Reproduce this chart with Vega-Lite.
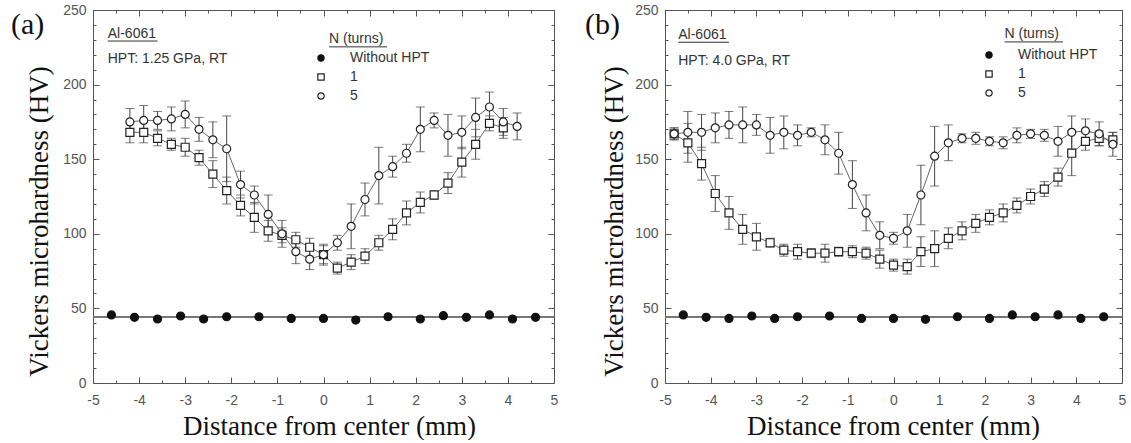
{
  "$schema": "https://vega.github.io/schema/vega-lite/v6.json",
  "background": "white",
  "padding": {"left": 10, "top": 2, "right": 5, "bottom": 0},
  "spacing": 25,
  "config": {
    "view": {"stroke": "#555", "strokeWidth": 1},
    "font": "Liberation Sans",
    "axis": {"grid": false, "domain": false, "labelFont": "Liberation Sans", "labelFontSize": 14, "labelColor": "#555", "tickColor": "#555", "tickWidth": 1, "titleFont": "Liberation Serif", "titleFontSize": 27, "titleFontWeight": "normal", "titleColor": "#111", "labelFlush": false, "labelOverlap": false},
    "legend": {"orient": "none", "title": null, "labelFont": "Liberation Sans", "labelFontSize": 14, "labelColor": "#333", "symbolStrokeWidth": 1.2, "symbolSize": 40, "rowPadding": 5, "labelOffset": 22, "padding": 0}
  },
  "resolve": {"scale": {"shape": "independent", "fill": "independent", "stroke": "independent"}, "legend": {"shape": "independent", "fill": "independent", "stroke": "independent"}},
  "datasets": {
    "a": [
      {"s":"Without HPT","x":-4.6,"hv":45.6},{"s":"Without HPT","x":-4.1,"hv":44},{"s":"Without HPT","x":-3.6,"hv":42.9},{"s":"Without HPT","x":-3.1,"hv":44.9},{"s":"Without HPT","x":-2.6,"hv":42.9},{"s":"Without HPT","x":-2.1,"hv":44.4},{"s":"Without HPT","x":-1.4,"hv":44.4},{"s":"Without HPT","x":-0.7,"hv":43.3},{"s":"Without HPT","x":0,"hv":43.3},{"s":"Without HPT","x":0.7,"hv":42.2},{"s":"Without HPT","x":1.4,"hv":44.4},{"s":"Without HPT","x":2.1,"hv":42.9},{"s":"Without HPT","x":2.6,"hv":45.1},{"s":"Without HPT","x":3.1,"hv":44},{"s":"Without HPT","x":3.6,"hv":45.6},{"s":"Without HPT","x":4.1,"hv":42.9},{"s":"Without HPT","x":4.6,"hv":44},
      {"s":"1","x":-4.2,"hv":168,"e":7},{"s":"1","x":-3.9,"hv":168,"e":7},{"s":"1","x":-3.6,"hv":164,"e":5},{"s":"1","x":-3.3,"hv":160,"e":4},{"s":"1","x":-3.0,"hv":158,"e":6},{"s":"1","x":-2.7,"hv":151,"e":5},{"s":"1","x":-2.4,"hv":140,"e":9},{"s":"1","x":-2.1,"hv":129,"e":9},{"s":"1","x":-1.8,"hv":119,"e":7},{"s":"1","x":-1.5,"hv":111,"e":10},{"s":"1","x":-1.2,"hv":102,"e":7},{"s":"1","x":-0.9,"hv":99,"e":5},{"s":"1","x":-0.6,"hv":96,"e":5},{"s":"1","x":-0.3,"hv":91,"e":6},{"s":"1","x":0,"hv":86,"e":7},{"s":"1","x":0.3,"hv":77,"e":4},{"s":"1","x":0.6,"hv":81,"e":5},{"s":"1","x":0.9,"hv":85,"e":5},{"s":"1","x":1.2,"hv":94,"e":5},{"s":"1","x":1.5,"hv":103,"e":7},{"s":"1","x":1.8,"hv":114,"e":8},{"s":"1","x":2.1,"hv":121,"e":7},{"s":"1","x":2.4,"hv":126,"e":3},{"s":"1","x":2.7,"hv":134,"e":7},{"s":"1","x":3.0,"hv":148,"e":10},{"s":"1","x":3.3,"hv":160,"e":10},{"s":"1","x":3.6,"hv":174,"e":5},{"s":"1","x":3.9,"hv":171,"e":7},
      {"s":"5","x":-4.2,"hv":175,"e":9},{"s":"5","x":-3.9,"hv":176,"e":10},{"s":"5","x":-3.6,"hv":176,"e":6},{"s":"5","x":-3.3,"hv":177,"e":8},{"s":"5","x":-3.0,"hv":180,"e":9},{"s":"5","x":-2.7,"hv":170,"e":8},{"s":"5","x":-2.4,"hv":163,"e":12},{"s":"5","x":-2.1,"hv":157,"e":22},{"s":"5","x":-1.8,"hv":133,"e":9},{"s":"5","x":-1.5,"hv":126,"e":6},{"s":"5","x":-1.2,"hv":113,"e":13},{"s":"5","x":-0.9,"hv":100,"e":9},{"s":"5","x":-0.6,"hv":88,"e":8},{"s":"5","x":-0.3,"hv":83,"e":7},{"s":"5","x":0,"hv":86,"e":6},{"s":"5","x":0.3,"hv":94,"e":5},{"s":"5","x":0.6,"hv":105,"e":15},{"s":"5","x":0.9,"hv":123,"e":11},{"s":"5","x":1.2,"hv":139,"e":19},{"s":"5","x":1.5,"hv":145,"e":7},{"s":"5","x":1.8,"hv":154,"e":6},{"s":"5","x":2.1,"hv":170,"e":15},{"s":"5","x":2.4,"hv":176,"e":5},{"s":"5","x":2.7,"hv":166,"e":14},{"s":"5","x":3.0,"hv":168,"e":11},{"s":"5","x":3.3,"hv":178,"e":13},{"s":"5","x":3.6,"hv":185,"e":10},{"s":"5","x":3.9,"hv":175,"e":9},{"s":"5","x":4.2,"hv":172,"e":9}
    ],
    "b": [
      {"s":"Without HPT","x":-4.6,"hv":45.6},{"s":"Without HPT","x":-4.1,"hv":44},{"s":"Without HPT","x":-3.6,"hv":43.3},{"s":"Without HPT","x":-3.1,"hv":44.9},{"s":"Without HPT","x":-2.6,"hv":43.3},{"s":"Without HPT","x":-2.1,"hv":44.4},{"s":"Without HPT","x":-1.4,"hv":44.9},{"s":"Without HPT","x":-0.7,"hv":43.3},{"s":"Without HPT","x":0,"hv":43.3},{"s":"Without HPT","x":0.7,"hv":42.7},{"s":"Without HPT","x":1.4,"hv":44.4},{"s":"Without HPT","x":2.1,"hv":43.3},{"s":"Without HPT","x":2.6,"hv":45.6},{"s":"Without HPT","x":3.1,"hv":44.4},{"s":"Without HPT","x":3.6,"hv":45.6},{"s":"Without HPT","x":4.1,"hv":43.3},{"s":"Without HPT","x":4.6,"hv":44.4},
      {"s":"1","x":-4.8,"hv":167,"e":4},{"s":"1","x":-4.5,"hv":161,"e":13},{"s":"1","x":-4.2,"hv":147,"e":11},{"s":"1","x":-3.9,"hv":127,"e":12},{"s":"1","x":-3.6,"hv":114,"e":11},{"s":"1","x":-3.3,"hv":103,"e":10},{"s":"1","x":-3.0,"hv":98,"e":9},{"s":"1","x":-2.7,"hv":94,"e":3},{"s":"1","x":-2.4,"hv":89,"e":4},{"s":"1","x":-2.1,"hv":88,"e":5},{"s":"1","x":-1.8,"hv":87,"e":3},{"s":"1","x":-1.5,"hv":87,"e":6},{"s":"1","x":-1.2,"hv":88,"e":3},{"s":"1","x":-0.9,"hv":88,"e":4},{"s":"1","x":-0.6,"hv":87,"e":4},{"s":"1","x":-0.3,"hv":83,"e":6},{"s":"1","x":0,"hv":79,"e":4},{"s":"1","x":0.3,"hv":78,"e":5},{"s":"1","x":0.6,"hv":88,"e":10},{"s":"1","x":0.9,"hv":90,"e":12},{"s":"1","x":1.2,"hv":97,"e":7},{"s":"1","x":1.5,"hv":102,"e":6},{"s":"1","x":1.8,"hv":107,"e":6},{"s":"1","x":2.1,"hv":111,"e":5},{"s":"1","x":2.4,"hv":114,"e":6},{"s":"1","x":2.7,"hv":119,"e":5},{"s":"1","x":3.0,"hv":125,"e":5},{"s":"1","x":3.3,"hv":130,"e":5},{"s":"1","x":3.6,"hv":138,"e":6},{"s":"1","x":3.9,"hv":154,"e":15},{"s":"1","x":4.2,"hv":162,"e":6},{"s":"1","x":4.5,"hv":164,"e":5},{"s":"1","x":4.8,"hv":163,"e":5},
      {"s":"5","x":-4.8,"hv":167,"e":4},{"s":"5","x":-4.5,"hv":168,"e":14},{"s":"5","x":-4.2,"hv":168,"e":12},{"s":"5","x":-3.9,"hv":171,"e":10},{"s":"5","x":-3.6,"hv":173,"e":9},{"s":"5","x":-3.3,"hv":173,"e":12},{"s":"5","x":-3.0,"hv":173,"e":7},{"s":"5","x":-2.7,"hv":166,"e":12},{"s":"5","x":-2.4,"hv":168,"e":11},{"s":"5","x":-2.1,"hv":166,"e":7},{"s":"5","x":-1.8,"hv":168,"e":3},{"s":"5","x":-1.5,"hv":163,"e":10},{"s":"5","x":-1.2,"hv":154,"e":14},{"s":"5","x":-0.9,"hv":133,"e":16},{"s":"5","x":-0.6,"hv":114,"e":12},{"s":"5","x":-0.3,"hv":99,"e":9},{"s":"5","x":0,"hv":97,"e":4},{"s":"5","x":0.3,"hv":102,"e":11},{"s":"5","x":0.6,"hv":126,"e":20},{"s":"5","x":0.9,"hv":152,"e":20},{"s":"5","x":1.2,"hv":161,"e":12},{"s":"5","x":1.5,"hv":164,"e":3},{"s":"5","x":1.8,"hv":164,"e":4},{"s":"5","x":2.1,"hv":162,"e":3},{"s":"5","x":2.4,"hv":161,"e":4},{"s":"5","x":2.7,"hv":166,"e":5},{"s":"5","x":3.0,"hv":167,"e":3},{"s":"5","x":3.3,"hv":166,"e":4},{"s":"5","x":3.6,"hv":162,"e":10},{"s":"5","x":3.9,"hv":168,"e":11},{"s":"5","x":4.2,"hv":169,"e":8},{"s":"5","x":4.5,"hv":167,"e":8},{"s":"5","x":4.8,"hv":160,"e":8}
    ]
  },
  "hconcat": [
    {
      "width": 461, "height": 373,
      "data": {"name": "a"},
      "layer": [
        {
          "transform": [{"filter": "datum.s !== 'Without HPT'"}],
          "mark": {"type": "line", "color": "#666", "strokeWidth": 1},
          "encoding": {
            "x": {"field": "x", "type": "quantitative", "scale": {"domain": [-5, 5], "nice": false, "zero": false},
              "axis": {"orient": "bottom", "values": [-5,-4.5,-4,-3.5,-3,-2.5,-2,-1.5,-1,-0.5,0,0.5,1,1.5,2,2.5,3,3.5,4,4.5,5], "labelExpr": "datum.value % 1 === 0 ? '' + datum.value : ''", "tickSize": {"condition": {"test": "datum.value % 1 !== 0", "value": -3}, "value": -6}, "labelPadding": 16, "title": "Distance from center (mm)", "titleX": 236, "titleY": 51, "titleBaseline": "alphabetic", "titleAlign": "center"}},
            "y": {"field": "hv", "type": "quantitative", "scale": {"domain": [0, 250], "nice": false},
              "axis": {"orient": "left", "values": [0,10,20,30,40,50,60,70,80,90,100,110,120,130,140,150,160,170,180,190,200,210,220,230,240,250], "labelExpr": "datum.value % 50 === 0 ? '' + datum.value : ''", "tickSize": {"condition": {"test": "datum.value % 50 !== 0", "value": -3}, "value": -6}, "labelPadding": 13, "title": "Vickers microhardness (HV)", "titleX": -46, "titleY": 211, "titleBaseline": "alphabetic", "titleAlign": "center"}},
            "detail": {"field": "s"}
          }
        },
        {
          "transform": [{"filter": "datum.s !== 'Without HPT'"}],
          "mark": {"type": "errorbar", "ticks": {"size": 9}, "color": "#444", "thickness": 1},
          "encoding": {
            "x": {"field": "x", "type": "quantitative", "axis": null},
            "y": {"field": "hv", "type": "quantitative", "axis": null},
            "yError": {"field": "e"}
          }
        },
        {
          "mark": {"type": "rule", "color": "#777", "strokeWidth": 1},
          "encoding": {"y": {"datum": 44, "type": "quantitative", "axis": null}}
        },
        {
          "mark": {"type": "point", "filled": true, "size": 64, "strokeWidth": 1.2, "opacity": 1},
          "encoding": {
            "x": {"field": "x", "type": "quantitative", "axis": {"orient": "top", "values": [-5,-4.5,-4,-3.5,-3,-2.5,-2,-1.5,-1,-0.5,0,0.5,1,1.5,2,2.5,3,3.5,4,4.5,5], "labels": false, "title": null, "tickSize": {"condition": {"test": "datum.value % 1 !== 0", "value": -3}, "value": -6}}},
            "y": {"field": "hv", "type": "quantitative", "axis": {"orient": "right", "values": [0,10,20,30,40,50,60,70,80,90,100,110,120,130,140,150,160,170,180,190,200,210,220,230,240,250], "labels": false, "title": null, "tickSize": {"condition": {"test": "datum.value % 50 !== 0", "value": -3}, "value": -6}}},
            "shape": {"field": "s", "type": "nominal", "scale": {"domain": ["Without HPT", "1", "5"], "range": ["circle", "square", "circle"]}, "legend": {"legendX": 221, "legendY": 41, "title": null}},
            "fill": {"field": "s", "type": "nominal", "scale": {"domain": ["Without HPT", "1", "5"], "range": ["#111", "white", "white"]}, "legend": {"legendX": 221, "legendY": 41, "title": null}},
            "stroke": {"field": "s", "type": "nominal", "scale": {"domain": ["Without HPT", "1", "5"], "range": ["#111", "#222", "#222"]}, "legend": {"legendX": 221, "legendY": 41, "title": null}}
          }
        },
        {
          "data": {"values": [{}]},
          "mark": {"type": "text", "align": "left", "baseline": "alphabetic", "font": "Liberation Serif", "fontSize": 30, "color": "#111"},
          "encoding": {"x": {"datum": -6.78, "type": "quantitative", "axis": null}, "y": {"datum": 234, "type": "quantitative", "axis": null}, "text": {"value": "(a)"}}
        },
        {
          "data": {"values": [{}]},
          "mark": {"type": "text", "align": "left", "baseline": "middle", "font": "Liberation Sans", "fontSize": 14, "color": "#333"},
          "encoding": {"x": {"datum": -4.68, "type": "quantitative", "axis": null}, "y": {"datum": 234, "type": "quantitative", "axis": null}, "text": {"value": "Al-6061"}}
        },
        {
          "data": {"values": [{}]},
          "mark": {"type": "text", "align": "left", "baseline": "middle", "font": "Liberation Sans", "fontSize": 14, "color": "#333"},
          "encoding": {"x": {"datum": -4.68, "type": "quantitative", "axis": null}, "y": {"datum": 217, "type": "quantitative", "axis": null}, "text": {"value": "HPT: 1.25 GPa, RT"}}
        },
        {
          "data": {"values": [{}]},
          "mark": {"type": "text", "align": "left", "baseline": "middle", "font": "Liberation Sans", "fontSize": 14, "color": "#333"},
          "encoding": {"x": {"datum": 0.12, "type": "quantitative", "axis": null}, "y": {"datum": 230.4, "type": "quantitative", "axis": null}, "text": {"value": "N (turns)"}}
        },
        {
          "data": {"values": [{}]},
          "mark": {"type": "rule", "color": "#333", "strokeWidth": 1},
          "encoding": {"x": {"datum": -4.68, "type": "quantitative", "axis": null}, "x2": {"datum": -3.6}, "y": {"datum": 229.2, "type": "quantitative", "axis": null}}
        },
        {
          "data": {"values": [{}]},
          "mark": {"type": "rule", "color": "#333", "strokeWidth": 1},
          "encoding": {"x": {"datum": 0.12, "type": "quantitative", "axis": null}, "x2": {"datum": 1.38}, "y": {"datum": 225.3, "type": "quantitative", "axis": null}}
        }
      ],
      "resolve": {"axis": {"x": "independent", "y": "independent"}}
    },
    {
      "width": 457, "height": 373,
      "data": {"name": "b"},
      "layer": [
        {
          "transform": [{"filter": "datum.s !== 'Without HPT'"}],
          "mark": {"type": "line", "color": "#666", "strokeWidth": 1},
          "encoding": {
            "x": {"field": "x", "type": "quantitative", "scale": {"domain": [-5, 5], "nice": false, "zero": false},
              "axis": {"orient": "bottom", "values": [-5,-4.5,-4,-3.5,-3,-2.5,-2,-1.5,-1,-0.5,0,0.5,1,1.5,2,2.5,3,3.5,4,4.5,5], "labelExpr": "datum.value % 1 === 0 ? '' + datum.value : ''", "tickSize": {"condition": {"test": "datum.value % 1 !== 0", "value": -3}, "value": -6}, "labelPadding": 16, "title": "Distance from center (mm)", "titleX": 228, "titleY": 51, "titleBaseline": "alphabetic", "titleAlign": "center"}},
            "y": {"field": "hv", "type": "quantitative", "scale": {"domain": [0, 250], "nice": false},
              "axis": {"orient": "left", "values": [0,10,20,30,40,50,60,70,80,90,100,110,120,130,140,150,160,170,180,190,200,210,220,230,240,250], "labelExpr": "datum.value % 50 === 0 ? '' + datum.value : ''", "tickSize": {"condition": {"test": "datum.value % 50 !== 0", "value": -3}, "value": -6}, "labelPadding": 13, "title": "Vickers microhardness (HV)", "titleX": -43, "titleY": 211, "titleBaseline": "alphabetic", "titleAlign": "center"}},
            "detail": {"field": "s"}
          }
        },
        {
          "transform": [{"filter": "datum.s !== 'Without HPT'"}],
          "mark": {"type": "errorbar", "ticks": {"size": 9}, "color": "#444", "thickness": 1},
          "encoding": {
            "x": {"field": "x", "type": "quantitative", "axis": null},
            "y": {"field": "hv", "type": "quantitative", "axis": null},
            "yError": {"field": "e"}
          }
        },
        {
          "mark": {"type": "rule", "color": "#777", "strokeWidth": 1},
          "encoding": {"y": {"datum": 44, "type": "quantitative", "axis": null}}
        },
        {
          "mark": {"type": "point", "filled": true, "size": 64, "strokeWidth": 1.2, "opacity": 1},
          "encoding": {
            "x": {"field": "x", "type": "quantitative", "axis": {"orient": "top", "values": [-5,-4.5,-4,-3.5,-3,-2.5,-2,-1.5,-1,-0.5,0,0.5,1,1.5,2,2.5,3,3.5,4,4.5,5], "labels": false, "title": null, "tickSize": {"condition": {"test": "datum.value % 1 !== 0", "value": -3}, "value": -6}}},
            "y": {"field": "hv", "type": "quantitative", "axis": {"orient": "right", "values": [0,10,20,30,40,50,60,70,80,90,100,110,120,130,140,150,160,170,180,190,200,210,220,230,240,250], "labels": false, "title": null, "tickSize": {"condition": {"test": "datum.value % 50 !== 0", "value": -3}, "value": -6}}},
            "shape": {"field": "s", "type": "nominal", "scale": {"domain": ["Without HPT", "1", "5"], "range": ["circle", "square", "circle"]}, "legend": {"legendX": 317, "legendY": 38, "title": null}},
            "fill": {"field": "s", "type": "nominal", "scale": {"domain": ["Without HPT", "1", "5"], "range": ["#111", "white", "white"]}, "legend": {"legendX": 317, "legendY": 38, "title": null}},
            "stroke": {"field": "s", "type": "nominal", "scale": {"domain": ["Without HPT", "1", "5"], "range": ["#111", "#222", "#222"]}, "legend": {"legendX": 317, "legendY": 38, "title": null}}
          }
        },
        {
          "data": {"values": [{}]},
          "mark": {"type": "text", "align": "left", "baseline": "alphabetic", "font": "Liberation Serif", "fontSize": 30, "color": "#111"},
          "encoding": {"x": {"datum": -6.75, "type": "quantitative", "axis": null}, "y": {"datum": 234, "type": "quantitative", "axis": null}, "text": {"value": "(b)"}}
        },
        {
          "data": {"values": [{}]},
          "mark": {"type": "text", "align": "left", "baseline": "middle", "font": "Liberation Sans", "fontSize": 14, "color": "#333"},
          "encoding": {"x": {"datum": -4.71, "type": "quantitative", "axis": null}, "y": {"datum": 233, "type": "quantitative", "axis": null}, "text": {"value": "Al-6061"}}
        },
        {
          "data": {"values": [{}]},
          "mark": {"type": "text", "align": "left", "baseline": "middle", "font": "Liberation Sans", "fontSize": 14, "color": "#333"},
          "encoding": {"x": {"datum": -4.71, "type": "quantitative", "axis": null}, "y": {"datum": 216, "type": "quantitative", "axis": null}, "text": {"value": "HPT: 4.0 GPa, RT"}}
        },
        {
          "data": {"values": [{}]},
          "mark": {"type": "text", "align": "left", "baseline": "middle", "font": "Liberation Sans", "fontSize": 14, "color": "#333"},
          "encoding": {"x": {"datum": 2.43, "type": "quantitative", "axis": null}, "y": {"datum": 233.8, "type": "quantitative", "axis": null}, "text": {"value": "N (turns)"}}
        },
        {
          "data": {"values": [{}]},
          "mark": {"type": "rule", "color": "#333", "strokeWidth": 1},
          "encoding": {"x": {"datum": -4.71, "type": "quantitative", "axis": null}, "x2": {"datum": -3.6}, "y": {"datum": 228.4, "type": "quantitative", "axis": null}}
        },
        {
          "data": {"values": [{}]},
          "mark": {"type": "rule", "color": "#333", "strokeWidth": 1},
          "encoding": {"x": {"datum": 2.43, "type": "quantitative", "axis": null}, "x2": {"datum": 3.71}, "y": {"datum": 228.6, "type": "quantitative", "axis": null}}
        }
      ],
      "resolve": {"axis": {"x": "independent", "y": "independent"}}
    }
  ]
}
